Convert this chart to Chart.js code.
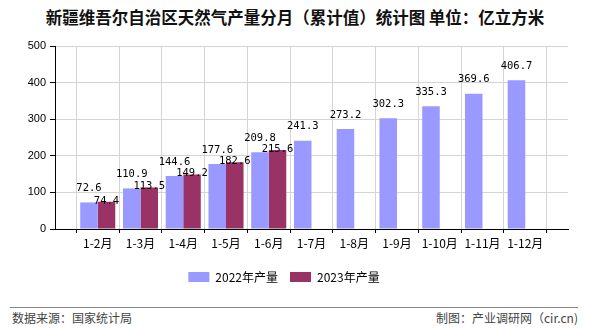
<!DOCTYPE html>
<html>
<head>
<meta charset="utf-8">
<script src="https://cdn.jsdelivr.net/npm/chart.js@4.4.0/dist/chart.umd.min.js"></script>
<style>
  body { margin: 0; width: 590px; height: 330px; position: relative; background: #fff; overflow: hidden;
         font-family: "Noto Sans CJK SC", sans-serif; }
  #title { position: absolute; top: 6px; left: 0; width: 590px; text-align: center;
           font-size: 16.5px; font-weight: bold; color: #111; line-height: 22px; }
  #box { position: absolute; top: 30px; left: 0; width: 590px; height: 263px; }
  #rule { position: absolute; top: 307px; left: 10px; width: 568px; height: 0; border-top: 1px solid #888; }
  .foot { position: absolute; top: 309px; font-size: 12px; color: #444; line-height: 18px; }
</style>
</head>
<body>
<div id="title">新疆维吾尔自治区天然气产量分月（累计值）统计图 单位：亿立方米</div>
<div id="box"><canvas id="gasChart"></canvas></div>
<div id="rule"></div>
<div class="foot" style="left:12px">数据来源：国家统计局</div>
<div class="foot" style="right:12px">制图：产业调研网（cir.cn)</div>
<script>
// periods and cumulative output, 100 million m³
const months = ['1-2月', '1-3月', '1-4月', '1-5月', '1-6月', '1-7月', '1-8月', '1-9月', '1-10月', '1-11月', '1-12月'];
const output2022 = [72.6, 110.9, 144.6, 177.6, 209.8, 241.3, 273.2, 302.3, 335.3, 369.6, 406.7];
const output2023 = [74.4, 113.5, 149.2, 182.6, 215.6];
const yTicks = [0, 100, 200, 300, 400, 500];

// pad one empty slot on each side so the groups sit on the grid lines
const labels = [''].concat(months, ['']);
function padSeries(arr) {
    const out = [null];
    for (let i = 0; i < months.length; i++) out.push(i < arr.length ? arr[i] : null);
    out.push(null);
    return out;
}

// value labels: 2022 above the bar, 2023 sitting on the bar top
const valueLabels = {
    id: 'valueLabels',
    afterDatasetsDraw(chart) {
        const ctx = chart.ctx;
        ctx.save();
        ctx.font = '10.5px "DejaVu Sans Mono", monospace';
        ctx.fillStyle = '#000';
        ctx.textAlign = 'center';
        ctx.textBaseline = 'middle';
        chart.data.datasets.forEach((ds, di) => {
            const meta = chart.getDatasetMeta(di);
            meta.data.forEach((bar, i) => {
                const v = ds.data[i];
                if (v == null) return;
                const dy = di === 0 ? -14 : -1;
                ctx.fillText(v.toFixed(1), bar.x, bar.y + dy);
            });
        });
        ctx.restore();
    }
};

Chart.defaults.font.family = '"Noto Sans CJK SC", sans-serif';
Chart.defaults.color = '#000';

new Chart(document.getElementById('gasChart'), {
    type: 'bar',
    data: {
        labels: labels,
        datasets: [
            { label: '2022年产量', data: padSeries(output2022), backgroundColor: '#9999ff' },
            { label: '2023年产量', data: padSeries(output2023), backgroundColor: '#993366' }
        ]
    },
    options: {
        responsive: true,
        maintainAspectRatio: false,
        animation: false,
        categoryPercentage: 0.82,
        barPercentage: 1,
        layout: { padding: { top: 16, right: 22, left: 0, bottom: 0 } },
        plugins: {
            legend: {
                position: 'bottom',
                labels: { boxWidth: 21, boxHeight: 10, font: { size: 12 }, padding: 12 }
            },
            tooltip: { enabled: false }
        },
        scales: {
            x: {
                offset: false,
                grid: { color: '#d4d4d4', tickLength: 4, tickColor: '#000' },
                border: { color: '#000' },
                ticks: { font: { size: 12 }, padding: 3, maxRotation: 0, autoSkip: false },
                afterFit(s) { s.height = 30; }
            },
            y: {
                min: 0,
                max: 500,
                afterBuildTicks(s) { s.ticks = yTicks.map(v => ({ value: v })); },
                grid: { color: '#d4d4d4', tickLength: 5, tickColor: '#000' },
                border: { color: '#000' },
                ticks: { font: { size: 11, family: '"Liberation Sans", sans-serif' }, padding: 4 },
                afterFit(s) { s.width = 55; }
            }
        }
    },
    plugins: [valueLabels]
});
</script>
</body>
</html>
